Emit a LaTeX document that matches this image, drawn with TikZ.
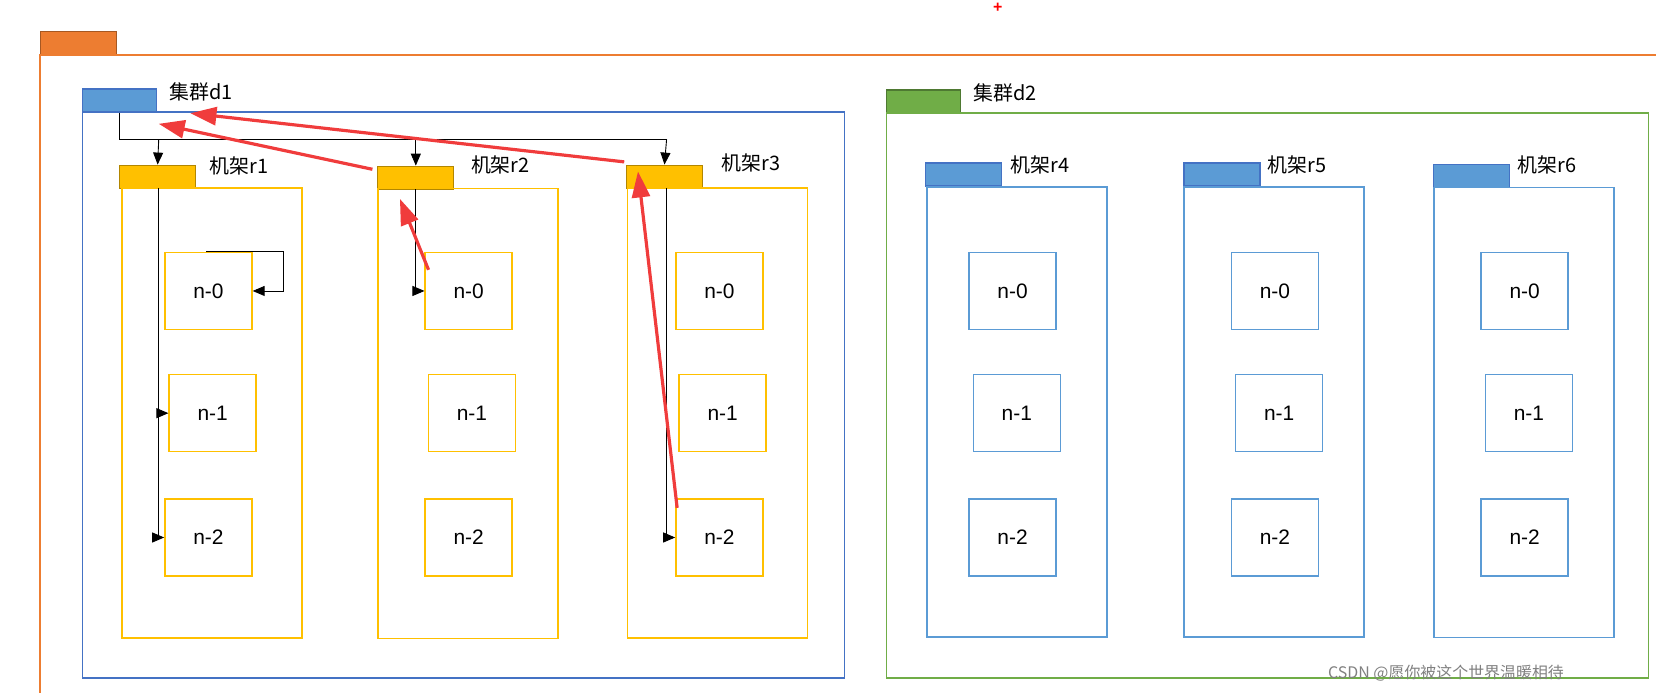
\documentclass[tikz,border=0pt]{standalone}
\usepackage{fontspec}
\setmainfont{Liberation Sans}
\newfontfamily\cjk{Noto Sans CJK SC}
\usetikzlibrary{arrows.meta}
\definecolor{ora}{HTML}{ED7D31}
\definecolor{blu}{HTML}{4472C4}
\definecolor{bluf}{HTML}{5B9BD5}
\definecolor{grn}{HTML}{70AD47}
\definecolor{yel}{HTML}{FFC000}
\definecolor{arr}{HTML}{F03C3C}
\begin{document}
\begin{tikzpicture}[x=1.058bp,y=-1.058bp,
  box/.style={draw,rectangle,inner sep=0pt},
  tab/.style={box,minimum width=76bp,minimum height=23bp,line width=1.2pt},
  nb/.style={box,minimum width=87bp,minimum height=77bp,line width=1.5pt,font=\fontsize{21}{23}\selectfont},
  lab/.style={anchor=west,inner sep=0pt,font=\cjk\fontsize{20}{22}\selectfont},
  blk/.style={draw=black,line width=0.9pt,-{Triangle[length=12bp,width=10bp]}},
  red/.style={draw=arr,line width=3.2pt,-{Triangle[length=26bp,width=18bp]}}]
\useasboundingbox (0,0) rectangle (1568,655);
% outer
\node[tab,fill=ora,draw=ora!70!black] (ot) at (74,41) {};
\draw[ora,line width=1.5pt] (1565,52) -- (38,52) -- (38,655);
\node[text=red,font=\fontsize{16}{16}\selectfont\bfseries] (plus) at (943,7) {+};
% clusters
\node[tab,fill=bluf,draw=blu,minimum width=74bp] (d1t) at (113,95) {};
\node[box,draw=blu,line width=1.5pt,minimum width=762bp,minimum height=566bp] (d1) at (438,373.5) {};
\node[lab] (d1l) at (160,87) {集群d1};
\node[tab,fill=grn,draw=grn!70!black,minimum width=74bp] (d2t) at (873,96) {};
\node[box,draw=grn,line width=1.5pt,minimum width=762bp,minimum height=565bp] (d2) at (1198,374) {};
\node[lab] (d2l) at (920,88) {集群d2};
% racks
\foreach \n/\tx/\ty/\fx/\fy/\lx/\ly/\fc/\dc in {
  r1/149/167/200.5/390.5/198/157/yel/yel!70!black,
  r2/393/168/442.5/391/445/156/yel/yel!70!black,
  r3/628/167/678/390.5/682/154/yel/yel!70!black,
  r4/911/165/961/389.5/955/156/bluf/blu,
  r5/1155/165/1204/389.5/1198/156/bluf/blu,
  r6/1391/166/1440.5/390/1434/156/bluf/blu}{
  \node[tab,fill=\fc,draw=\dc] (\n t) at (\tx,\ty) {};
  \node[box,draw=\fc,line width=1.5pt,minimum width=180bp,minimum height=450bp] (\n f) at (\fx,\fy) {};
  \node[lab] (\n l) at (\lx,\ly) {机架\n};
}
% compute nodes
\foreach \n/\a/\b/\c in {r1/197/201/197, r2/443/446/443, r3/680/683/680, r4/957/961/957, r5/1205/1209/1205, r6/1441/1445/1441}{
  \node[nb,draw=\ifnum\a<800 yel\else bluf\fi] (\n n0) at (\a,275) {n-0};
  \node[nb,draw=\ifnum\a<800 yel\else bluf\fi] (\n n1) at (\b,390.5) {n-1};
  \node[nb,draw=\ifnum\a<800 yel\else bluf\fi] (\n n2) at (\c,508) {n-2};
}
% black connectors
\coordinate (j) at (113,132);
\draw[line width=0.9pt] (d1t.south) -- (j) -- (630,132);
\draw[blk] (150,132) -- (r1t.north);
\draw[blk] (393,132) -- (r2t.north);
\draw[blk] (630,132) -- (r3t.north);
\draw[blk] (150,178) |- (r1n1.west);
\draw[blk] (150,178) |- (r1n2.west);
\draw[blk] (195,238) -- (268,238) |- (r1n0.east);
\draw[blk] (393,179) |- (r2n0.west);
\draw[blk] (630,178) |- (r3n2.west);
% red arrows
\draw[red] (352,160) -- (150,117);
\draw[red] (590,153) -- (180,107);
\draw[red] (405,255) -- (378,188);
\draw[red] (640,480) -- (603,162);
% watermark
\node[anchor=west,text=gray,font=\cjk\fontsize{16}{17}\selectfont] (wm) at (1252,636) {CSDN @愿你被这个世界温暖相待};
\end{tikzpicture}
\end{document}
